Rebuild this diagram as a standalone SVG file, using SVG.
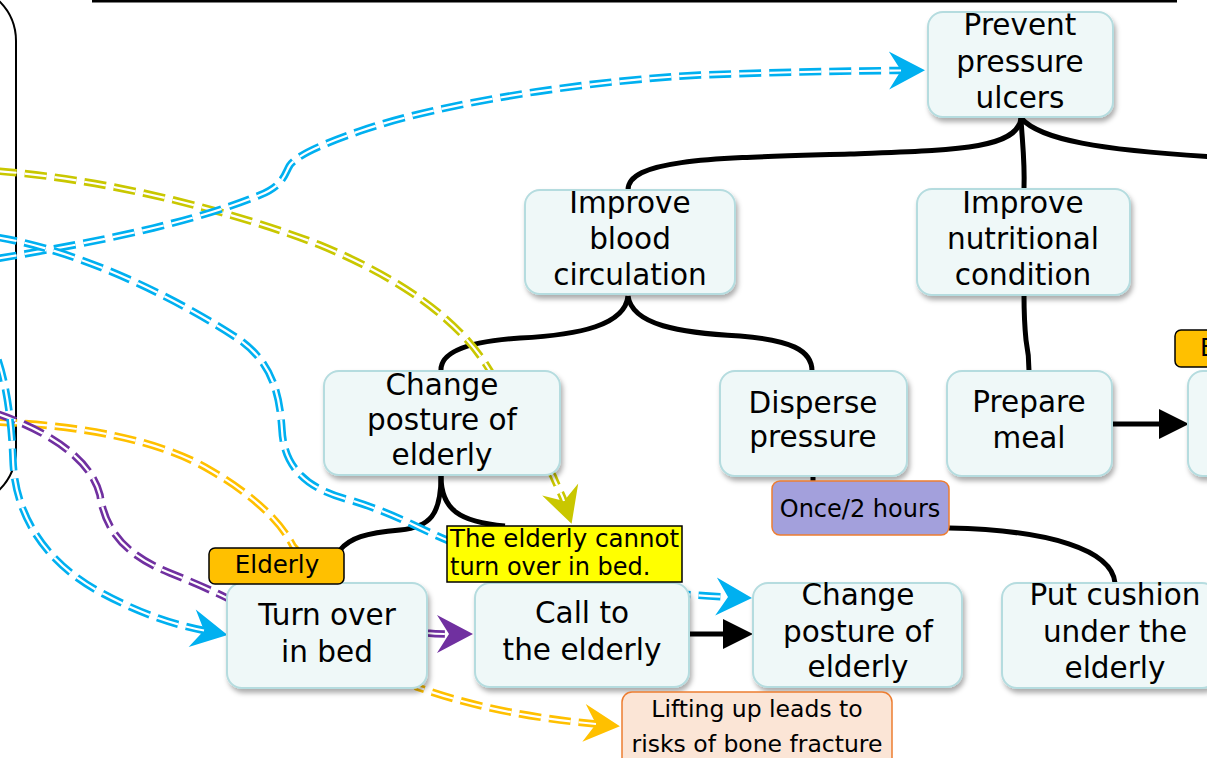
<svg xmlns="http://www.w3.org/2000/svg" xmlns:xlink="http://www.w3.org/1999/xlink" width="1207" height="758" viewBox="0 0 1207 758">
<style>
.node rect{fill:#EFF8F8;stroke:#B5DCDF;stroke-width:2;filter:url(#sh)}
.node text{font-family:"DejaVu Sans","Noto Sans",sans-serif;font-size:29.5px;fill:#000;text-anchor:middle}
.lbl text{font-family:"DejaVu Sans","Noto Sans",sans-serif;fill:#000}
.blk{fill:none;stroke:#000;stroke-width:5}
.dd{fill:none;stroke-width:7.5;stroke-dasharray:22 8}
.ddw{fill:none;stroke:#fff;stroke-width:2.2;stroke-dasharray:22 8}
.blue{stroke:#00B0F0;marker-end:url(#mBlue)}
.yel{stroke:#C9C700;marker-end:url(#mYel)}
.ora{stroke:#FFC000;marker-end:url(#mOra)}
.pur{stroke:#7030A0;marker-end:url(#mPur)}
</style>
<defs>
<filter id="sh" x="-10%" y="-10%" width="125%" height="130%">
<feDropShadow dx="2" dy="4" stdDeviation="2.5" flood-color="#000" flood-opacity="0.32"/>
</filter>
<marker id="mBlk" markerUnits="userSpaceOnUse" viewBox="0 -16 31 32" refX="0" refY="0" markerWidth="31" markerHeight="32" orient="auto"><path d="M0,-15 L30,0 L0,15 Z" fill="#000"/></marker>
<marker id="mBlue" markerUnits="userSpaceOnUse" viewBox="-13 -20 38 40" refX="0" refY="0" markerWidth="38" markerHeight="40" orient="auto"><path d="M24,0 L-12,-19 L0,0 L-12,19 Z" fill="#00B0F0"/></marker>
<marker id="mYel" markerUnits="userSpaceOnUse" viewBox="-13 -20 38 40" refX="0" refY="0" markerWidth="38" markerHeight="40" orient="auto"><path d="M24,0 L-12,-19 L0,0 L-12,19 Z" fill="#C9C700"/></marker>
<marker id="mOra" markerUnits="userSpaceOnUse" viewBox="-13 -20 38 40" refX="0" refY="0" markerWidth="38" markerHeight="40" orient="auto"><path d="M24,0 L-12,-19 L0,0 L-12,19 Z" fill="#FFC000"/></marker>
<marker id="mPur" markerUnits="userSpaceOnUse" viewBox="-13 -20 38 40" refX="0" refY="0" markerWidth="38" markerHeight="40" orient="auto"><path d="M24,0 L-12,-19 L0,0 L-12,19 Z" fill="#7030A0"/></marker>
<path id="pBlueA" d="M-5,259 C60,248 180,228 260,195 C285,185 285,172 290,165 C298,155 320,145 360,131 C450,100 600,80 700,75 C780,72 850,71 901,70.5"/>
<path id="pBlueB" d="M-5,237 C80,250 180,300 240,340 C275,365 280,400 282,430 C284,470 310,490 350,500 C400,515 430,535 460,545 C560,580 640,593 728,597"/>
<path id="pBlueC" d="M-2,360 C8,390 12,430 13,460 C15,520 50,565 100,592 C135,611 170,624 204,630.5"/>
<path id="pYel" d="M-5,171 C100,178 230,210 320,245 C400,278 460,320 490,371 L553,476 C558,488 562,495 564,501"/>
<path id="pOra" d="M-5,422 C80,425 160,440 210,470 C250,493 280,520 293,546 L417,687 C470,706 530,718 596,724"/>
<path id="pPur" d="M-5,413 C40,428 90,455 100,495 C105,530 125,555 170,573 C195,583 215,592 227,598 L427,633 C435,634 442,634 449,634"/>
</defs>

<rect x="0" y="0" width="1207" height="758" fill="#fff"/>
<path d="M-40,-15 A56,56 0 0 1 16,41 L16,450 A56,56 0 0 1 -40,506" fill="none" stroke="#000" stroke-width="2"/>
<line x1="92" y1="1" x2="1177" y2="1" stroke="#000" stroke-width="3"/>

<g id="connectors">
<path class="blk" d="M1021,118 C1018,150 950,150 850,154 C720,158 628,158 628,190"/>
<path class="blk" d="M1021,118 C1022,140 1025,160 1024,189"/>
<path class="blk" d="M1021,118 C1040,140 1100,150 1215,157"/>
<path class="blk" d="M628,296 C625,325 580,335 520,338 C460,342 440,355 441,371"/>
<path class="blk" d="M628,296 C632,325 680,333 740,336 C790,340 812,350 812,371"/>
<path class="blk" d="M1024,295 C1024,320 1025,330 1026,340 C1028,350 1029,360 1029,371"/>
<path class="blk" d="M1112,424 L1159,424" marker-end="url(#mBlk)"/>
<path class="blk" d="M441,476 C441,515 430,527 400,530 C365,533 350,538 340,550"/>
<path class="blk" d="M441,476 C441,510 460,522 505,526"/>
<path class="blk" d="M813,476 L813,482"/>
<path class="blk" d="M949,528 C1050,530 1112,550 1115,583"/>
<path class="blk" d="M689,634 L723,634" marker-end="url(#mBlk)"/>

<use xlink:href="#pYel" class="dd yel"/><use xlink:href="#pYel" class="ddw"/>
<use xlink:href="#pOra" class="dd ora"/><use xlink:href="#pOra" class="ddw"/>
<use xlink:href="#pPur" class="dd pur"/><use xlink:href="#pPur" class="ddw"/>
<use xlink:href="#pBlueA" class="dd blue"/><use xlink:href="#pBlueA" class="ddw"/>
<use xlink:href="#pBlueB" class="dd blue"/><use xlink:href="#pBlueB" class="ddw"/>
<use xlink:href="#pBlueC" class="dd blue"/><use xlink:href="#pBlueC" class="ddw"/>
</g>

<g id="n-prevent" class="node"><rect x="928" y="12" width="185" height="105" rx="15"/>
<text><tspan x="1020" y="35">Prevent</tspan><tspan x="1020" y="72">pressure</tspan><tspan x="1020" y="108">ulcers</tspan></text></g>
<g id="n-blood" class="node"><rect x="525" y="190" width="210" height="104" rx="15"/>
<text><tspan x="630" y="213">Improve</tspan><tspan x="630" y="249">blood</tspan><tspan x="630" y="285">circulation</tspan></text></g>
<g id="n-nutrition" class="node"><rect x="917" y="189" width="213" height="106" rx="15"/>
<text><tspan x="1023" y="213">Improve</tspan><tspan x="1023" y="249">nutritional</tspan><tspan x="1023" y="285">condition</tspan></text></g>
<g id="n-posture1" class="node"><rect x="324" y="371" width="236" height="104" rx="15"/>
<text><tspan x="442" y="395">Change</tspan><tspan x="442" y="430">posture of</tspan><tspan x="442" y="465">elderly</tspan></text></g>
<g id="n-disperse" class="node"><rect x="720" y="371" width="187" height="105" rx="15"/>
<text><tspan x="813" y="413">Disperse</tspan><tspan x="813" y="447">pressure</tspan></text></g>
<g id="n-meal" class="node"><rect x="947" y="371" width="165" height="105" rx="15"/>
<text><tspan x="1029" y="412">Prepare</tspan><tspan x="1029" y="448">meal</tspan></text></g>
<g id="n-right" class="node"><rect x="1188" y="371" width="40" height="105" rx="15"/></g>
<g id="n-turnover" class="node"><rect x="227" y="583" width="200" height="105" rx="15"/>
<text><tspan x="327" y="625">Turn over</tspan><tspan x="327" y="662">in bed</tspan></text></g>
<g id="n-callto" class="node"><rect x="475" y="583" width="214" height="104" rx="15"/>
<text><tspan x="582" y="623">Call to</tspan><tspan x="582" y="660">the elderly</tspan></text></g>
<g id="n-posture2" class="node"><rect x="753" y="583" width="209" height="104" rx="15"/>
<text><tspan x="858" y="605">Change</tspan><tspan x="858" y="642">posture of</tspan><tspan x="858" y="677">elderly</tspan></text></g>
<g id="n-cushion" class="node"><rect x="1002" y="583" width="215" height="105" rx="15"/>
<text><tspan x="1115" y="605">Put cushion</tspan><tspan x="1115" y="642">under the</tspan><tspan x="1115" y="678">elderly</tspan></text></g>

<g id="l-elderly" class="lbl"><rect x="209" y="548" width="135" height="36" rx="6" fill="#FFC000" stroke="#000" stroke-width="1.5"/>
<text x="277" y="573" font-size="24.5" text-anchor="middle">Elderly</text></g>
<g id="l-elderly2" class="lbl"><rect x="1175" y="330" width="60" height="37" rx="6" fill="#FFC000" stroke="#000" stroke-width="1.5"/>
<text x="1200" y="356" font-size="24.5">E</text></g>
<g id="l-cannot" class="lbl"><rect x="447" y="526" width="235" height="56" fill="#FFFF00" stroke="#000" stroke-width="1.5"/>
<text font-size="24"><tspan x="450" y="547" textLength="229" lengthAdjust="spacingAndGlyphs">The elderly cannot</tspan><tspan x="450" y="575">turn over in bed.</tspan></text></g>
<g id="l-once" class="lbl"><rect x="772" y="481" width="177" height="54" rx="8" fill="#A3A0DC" stroke="#ED7D31" stroke-width="1.5"/>
<text x="860" y="517" font-size="24" text-anchor="middle">Once/2 hours</text></g>
<g id="l-lifting" class="lbl"><rect x="622" y="692" width="270" height="80" rx="10" fill="#FBE5D6" stroke="#ED7D31" stroke-width="1.5"/>
<text font-size="23.5" text-anchor="middle"><tspan x="757" y="717">Lifting up leads to</tspan><tspan x="757" y="752">risks of bone fracture</tspan></text></g>
</svg>
